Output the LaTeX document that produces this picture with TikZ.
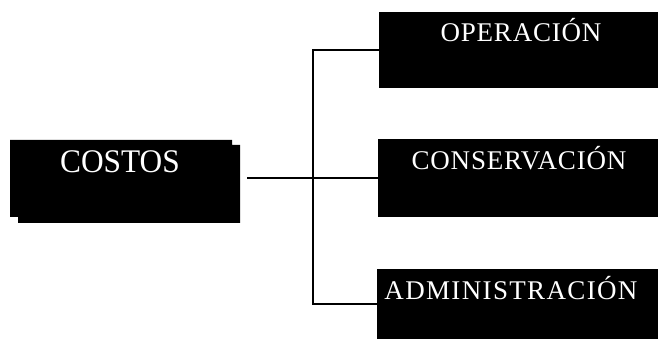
\documentclass[tikz,border=0pt]{standalone}
\usepackage{fontspec}
\setmainfont{Liberation Serif}
\begin{document}
\begin{tikzpicture}[x=1pt,y=1pt,
  blk/.style={fill=black,draw=none,inner sep=0pt,outer sep=0pt,anchor=south west},
  lbl/.style={text=white,inner sep=0pt,anchor=base,font=\fontsize{27}{27}\selectfont\addfontfeatures{LetterSpace=3}},
  big/.style={text=white,inner sep=0pt,anchor=base,font=\fontsize{33}{33}\selectfont,xscale=0.95},
  conn/.style={line width=1.6pt,black}]
\useasboundingbox (0,0) rectangle (658,339);
% COSTOS box with its shadow, as one shape
\fill[black] (10,122) -- (18,122) -- (18,116) -- (240,116) -- (240,194)
  -- (232,194) -- (232,199) -- (10,199) -- cycle;
\node[inner sep=0pt,outer sep=0pt,anchor=south west,minimum width=230pt,minimum height=83pt] (costos) at (10,116) {};
\node[big] (tcostos) at (120,166) {COSTOS};
% right boxes
\node[blk,minimum width=279pt,minimum height=76pt] (op) at (379,251) {};
\node[blk,minimum width=280pt,minimum height=78pt] (cons) at (378,122) {};
\node[blk,minimum width=281pt,minimum height=70pt] (adm) at (377,0) {};
\node[lbl] (top) at (521,297) {OPERACIÓN};
\node[lbl] (tcons) at (519,169) {CONSERVACIÓN};
\node[lbl,font=\fontsize{27}{27}\selectfont\addfontfeatures{LetterSpace=5}] (tadm) at (511,39) {ADMINISTRACIÓN};
% connectors
\coordinate (src) at (247,161);
\coordinate (jn) at (313,161);
\draw[conn] (src) -- (jn);
\draw[conn] (op.west) -| (jn) |- (adm.west);
\draw[conn] (jn) -- (cons.west);
\end{tikzpicture}
\end{document}
